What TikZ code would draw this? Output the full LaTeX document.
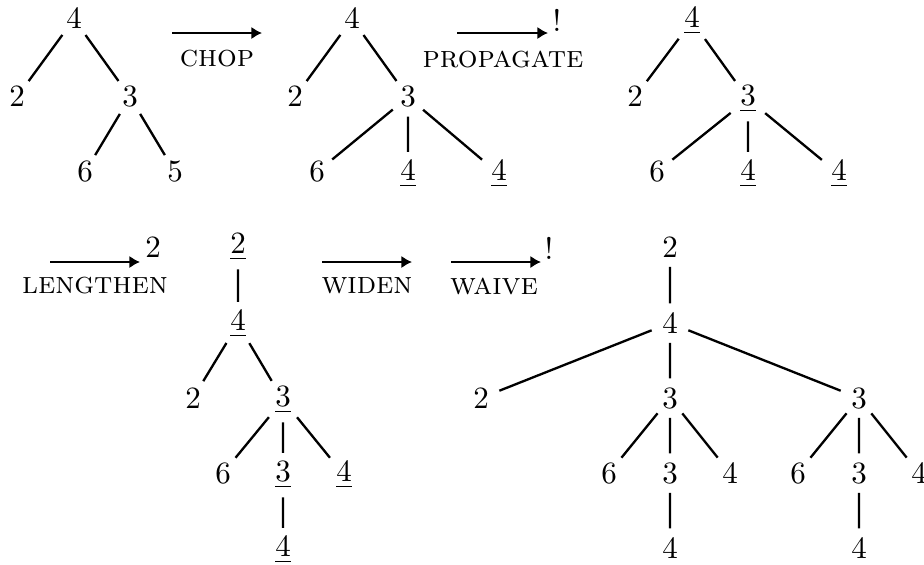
\documentclass[tikz,border=0pt]{standalone}
\usetikzlibrary{arrows.meta}
\begin{document}
\begin{tikzpicture}[x=0.3226pt,y=-0.3226pt,
  t/.style={circle,inner sep=1.5pt},
  edge/.style={line width=0.75pt},
  arr/.style={line width=0.95pt,-{Latex[length=3.4pt,width=4pt]}},
  lab/.style={inner sep=0pt,font=\scshape},
  tipmark/.style={inner sep=0pt}]
\useasboundingbox (0,0) rectangle (924,564);
% ---------- tree 1
\node[t] (a0) at (74,19) {$4$};
\node[t] (a1) at (17,97) {$2$};
\node[t] (a2) at (130,97) {$3$};
\node[t] (a3) at (85,172) {$6$};
\node[t] (a4) at (175,172) {$5$};
\draw[edge] (a0)--(a1) (a0)--(a2) (a2)--(a3) (a2)--(a4);
% arrow chop
\coordinate (c1) at (172,33); \coordinate (c2) at (262,33);
\draw[arr] (c1)--(c2);
\node[lab] (cl) at (217,59) {chop};
% ---------- tree 2
\node[t] (b0) at (352,19) {$4$};
\node[t] (b1) at (295,97) {$2$};
\node[t] (b2) at (408,97) {$3$};
\node[t] (b3) at (317,172) {$6$};
\node[t] (b4) at (408,174) {$\underline{4}$};
\node[t] (b5) at (499,174) {$\underline{4}$};
\draw[edge] (b0)--(b1) (b0)--(b2) (b2)--(b3) (b2)--(b4) (b2)--(b5);
% arrow propagate
\coordinate (p1) at (457,33); \coordinate (p2) at (548,33);
\draw[arr] (p1)--(p2);
\node[lab] (pl) at (503,59) {propagate};
\node[tipmark] (pm) at (557,20) {!};
% ---------- tree 3
\node[t] (d0) at (692,21) {$\underline{4}$};
\node[t] (d1) at (635,97) {$2$};
\node[t] (d2) at (748,99) {$\underline{3}$};
\node[t] (d3) at (657,172) {$6$};
\node[t] (d4) at (748,174) {$\underline{4}$};
\node[t] (d5) at (839,174) {$\underline{4}$};
\draw[edge] (d0)--(d1) (d0)--(d2) (d2)--(d3) (d2)--(d4) (d2)--(d5);
% ---------- arrow lengthen
\coordinate (l1) at (50,262); \coordinate (l2) at (140,262);
\draw[arr] (l1)--(l2);
\node[lab] (ll) at (95,286) {lengthen};
\node[tipmark] (lm) at (153,247) {$2$};
% ---------- tree 4
\node[t] (e0) at (238,247) {$\underline{2}$};
\node[t] (e1) at (238,324) {$\underline{4}$};
\node[t] (e2) at (193,398) {$2$};
\node[t] (e3) at (283,400) {$\underline{3}$};
\node[t] (e4) at (223,473) {$6$};
\node[t] (e5) at (283,475) {$\underline{3}$};
\node[t] (e6) at (344,475) {$\underline{4}$};
\node[t] (e7) at (283,550) {$\underline{4}$};
\draw[edge] (e0)--(e1) (e1)--(e2) (e1)--(e3) (e3)--(e4) (e3)--(e5) (e3)--(e6) (e5)--(e7);
% ---------- arrows widen, waive
\coordinate (w1) at (322,262); \coordinate (w2) at (412,262);
\draw[arr] (w1)--(w2);
\node[lab] (wl) at (367,286) {widen};
\coordinate (v1) at (451,262); \coordinate (v2) at (541,262);
\draw[arr] (v1)--(v2);
\node[lab] (vl) at (494,286) {waive};
\node[tipmark] (vm) at (549,248) {!};
% ---------- tree 5
\node[t] (f0) at (670,247) {$2$};
\node[t] (f1) at (670,323) {$4$};
\node[t] (f2) at (481,398) {$2$};
\node[t] (f3) at (670,398) {$3$};
\node[t] (f4) at (859,398) {$3$};
\node[t] (f5) at (609,473) {$6$};
\node[t] (f6) at (670,473) {$3$};
\node[t] (f7) at (730,473) {$4$};
\node[t] (f8) at (798,473) {$6$};
\node[t] (f9) at (859,473) {$3$};
\node[t] (f10) at (919,473) {$4$};
\node[t] (f11) at (670,548) {$4$};
\node[t] (f12) at (859,548) {$4$};
\draw[edge] (f0)--(f1) (f1)--(f2) (f1)--(f3) (f1)--(f4)
  (f3)--(f5) (f3)--(f6) (f3)--(f7) (f6)--(f11)
  (f4)--(f8) (f4)--(f9) (f4)--(f10) (f9)--(f12);
\end{tikzpicture}
\end{document}
